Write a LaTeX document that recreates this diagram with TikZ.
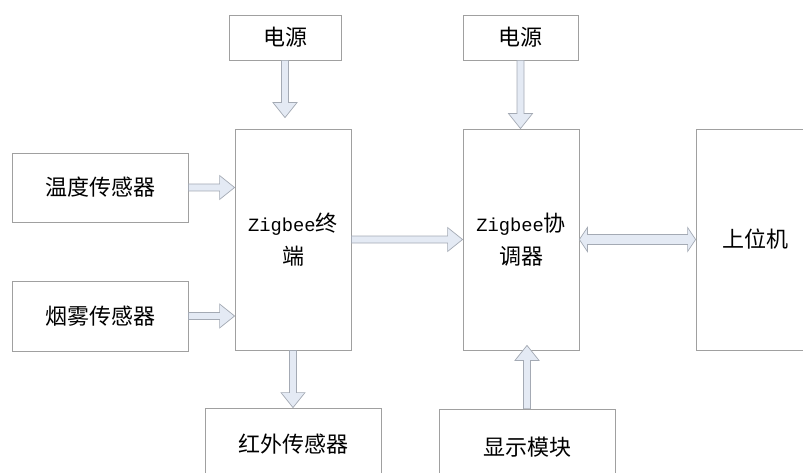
\documentclass[tikz,border=0pt]{standalone}
\usepackage{fontspec}
\newfontfamily\cjk{Noto Sans CJK SC}
\newfontfamily\zb{Liberation Mono}
\usetikzlibrary{calc}
\definecolor{boxgray}{HTML}{A0A0A0}
\definecolor{arrowgray}{HTML}{A4AAB4}
\definecolor{arrowfill}{HTML}{E4EAF4}
\tikzset{
  box/.style={draw=boxgray, line width=0.8pt, inner sep=0pt, align=center,
    font=\cjk\fontsize{22}{33}\selectfont},
  arrowsty/.style={draw=arrowgray, fill=arrowfill, line width=0.7pt, line join=miter},
}
\newcommand{\zbtext}{{\zb\fontsize{18.75}{33}\selectfont Zigbee}}
% single block arrow: start, end, head length, head half width, shaft half width
\newcommand{\sarrow}[5]{%
  \path (#1) coordinate (aA) (#2) coordinate (aB);
  \path ($(aB)!#3!(aA)$) coordinate (aH);
  \draw[arrowsty] ($(aA)!#5!90:(aB)$) -- ($(aH)!#5!90:(aB)$) -- ($(aH)!#4!90:(aB)$)
    -- (aB) -- ($(aH)!#4!-90:(aB)$) -- ($(aH)!#5!-90:(aB)$) -- ($(aA)!#5!-90:(aB)$) -- cycle;
}
% double block arrow
\newcommand{\darrow}[5]{%
  \path (#1) coordinate (aA) (#2) coordinate (aB);
  \path ($(aA)!#3!(aB)$) coordinate (aH1) ($(aB)!#3!(aA)$) coordinate (aH2);
  \draw[arrowsty] (aA) -- ($(aH1)!#4!90:(aB)$) -- ($(aH1)!#5!90:(aB)$)
    -- ($(aH2)!#5!90:(aB)$) -- ($(aH2)!#4!90:(aB)$) -- (aB)
    -- ($(aH2)!#4!-90:(aB)$) -- ($(aH2)!#5!-90:(aB)$)
    -- ($(aH1)!#5!-90:(aB)$) -- ($(aH1)!#4!-90:(aB)$) -- cycle;
}
\begin{document}
\begin{tikzpicture}[x=1pt,y=-1pt]
\useasboundingbox (0,0) rectangle (803,473);
\node[box, minimum width=112pt, minimum height=45pt] (psL) at (285,37.5) {电源};
\node[box, minimum width=115pt, minimum height=45pt] (psR) at (520.5,37.5) {电源};
\node[box, minimum width=176pt, minimum height=69pt] (temp) at (100,187.5) {温度传感器};
\node[box, minimum width=176pt, minimum height=70pt] (smoke) at (100,316) {烟雾传感器};
\node[box, minimum width=116pt, minimum height=221pt] (term) at (293,239.5) {\zbtext 终\\端};
\node[box, minimum width=116pt, minimum height=221pt] (coor) at (521,239.5) {\zbtext 协\\调器};
\node[box, minimum width=118pt, minimum height=221pt] (host) at (755,239.5) {上位机};
\node[box, minimum width=176pt, minimum height=72pt] (ir) at (293,444) {红外传感器};
\node[box, minimum width=176pt, minimum height=76pt] (disp) at (527,447) {显示模块};

\coordinate (psLtip) at ($(psL.south |- term.north)+(0,-11)$);
\coordinate (disptip) at ($(disp.north |- coor.south)+(0,-5)$);

\sarrow{psL.south}{psLtip}{15pt}{12pt}{3.5pt}
\sarrow{psR.south}{psR.south |- coor.north}{15pt}{12pt}{3.5pt}
\sarrow{temp.east}{term.west |- temp.east}{15pt}{12pt}{3.5pt}
\sarrow{smoke.east}{term.west |- smoke.east}{15pt}{12pt}{3.5pt}
\sarrow{term.east}{coor.west}{15pt}{12pt}{3.5pt}
\sarrow{term.south}{ir.north}{15pt}{12pt}{3.5pt}
\sarrow{disp.north}{disptip}{15pt}{12pt}{3.5pt}
\darrow{coor.east}{host.west |- coor.east}{8pt}{12pt}{5pt}
\end{tikzpicture}
\end{document}
